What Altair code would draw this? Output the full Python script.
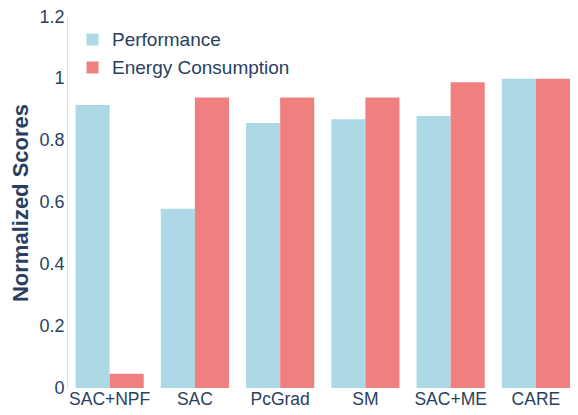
import altair as alt
import pandas as pd

methods = ["SAC+NPF", "SAC", "PcGrad", "SM", "SAC+ME", "CARE"]
metrics = ["Performance", "Energy Consumption"]
performance = [0.915, 0.58, 0.857, 0.869, 0.88, 1.0]
energy = [0.046, 0.94, 0.94, 0.94, 0.989, 1.0]
colors = ["#ADD8E6", "#F08080"]
y_ticks = [0, 0.2, 0.4, 0.6, 0.8, 1.0, 1.2]

rows = []
for m, p, e in zip(methods, performance, energy):
    rows.append({"Method": m, "Metric": metrics[0], "Score": p})
    rows.append({"Method": m, "Metric": metrics[1], "Score": e})
df = pd.DataFrame(rows)

font = "Liberation Sans"
txt = "#2a3f5f"

chart = alt.Chart(df).mark_bar().encode(
    x=alt.X("Method:N", sort=methods, title=None,
            scale=alt.Scale(paddingInner=0.2, paddingOuter=0.05, align=1),
            axis=alt.Axis(labelAngle=0, labelFontSize=17.5, labelColor=txt, labelFont=font,
                          ticks=False, domain=False, grid=False, labelPadding=2)),
    xOffset=alt.XOffset("Metric:N", sort=metrics),
    y=alt.Y("Score:Q", title="Normalized Scores",
            scale=alt.Scale(domain=[0, 1.2], nice=False),
            axis=alt.Axis(values=y_ticks, format=".1~f", labelFontSize=18, labelColor=txt,
                          labelFont=font, ticks=False, domain=False, gridColor="white",
                          gridWidth=1, labelPadding=3, titleFontSize=22, titleFont=font,
                          titleFontWeight="bold", titleColor=txt, titlePadding=6)),
    color=alt.Color("Metric:N", sort=metrics,
                    scale=alt.Scale(domain=metrics, range=colors),
                    legend=alt.Legend(title=None, orient="top-left", offset=4, fillColor="white",
                                      padding=9, symbolType="square", symbolSize=144,
                                      symbolStrokeWidth=0, symbolOffset=3, labelFontSize=19,
                                      labelFont=font, labelColor=txt, rowPadding=8,
                                      labelOffset=10, labelLimit=400)),
).properties(
    width=503, height=371,
    autosize=alt.AutoSizeParams(type="none"),
    padding={"left": 59, "top": 9, "right": 0, "bottom": 19},
).configure_view(
    fill="#E5ECF6", stroke=None
).configure(background="white")

chart.save("out.html", embed_options={"renderer": "svg", "actions": False})
